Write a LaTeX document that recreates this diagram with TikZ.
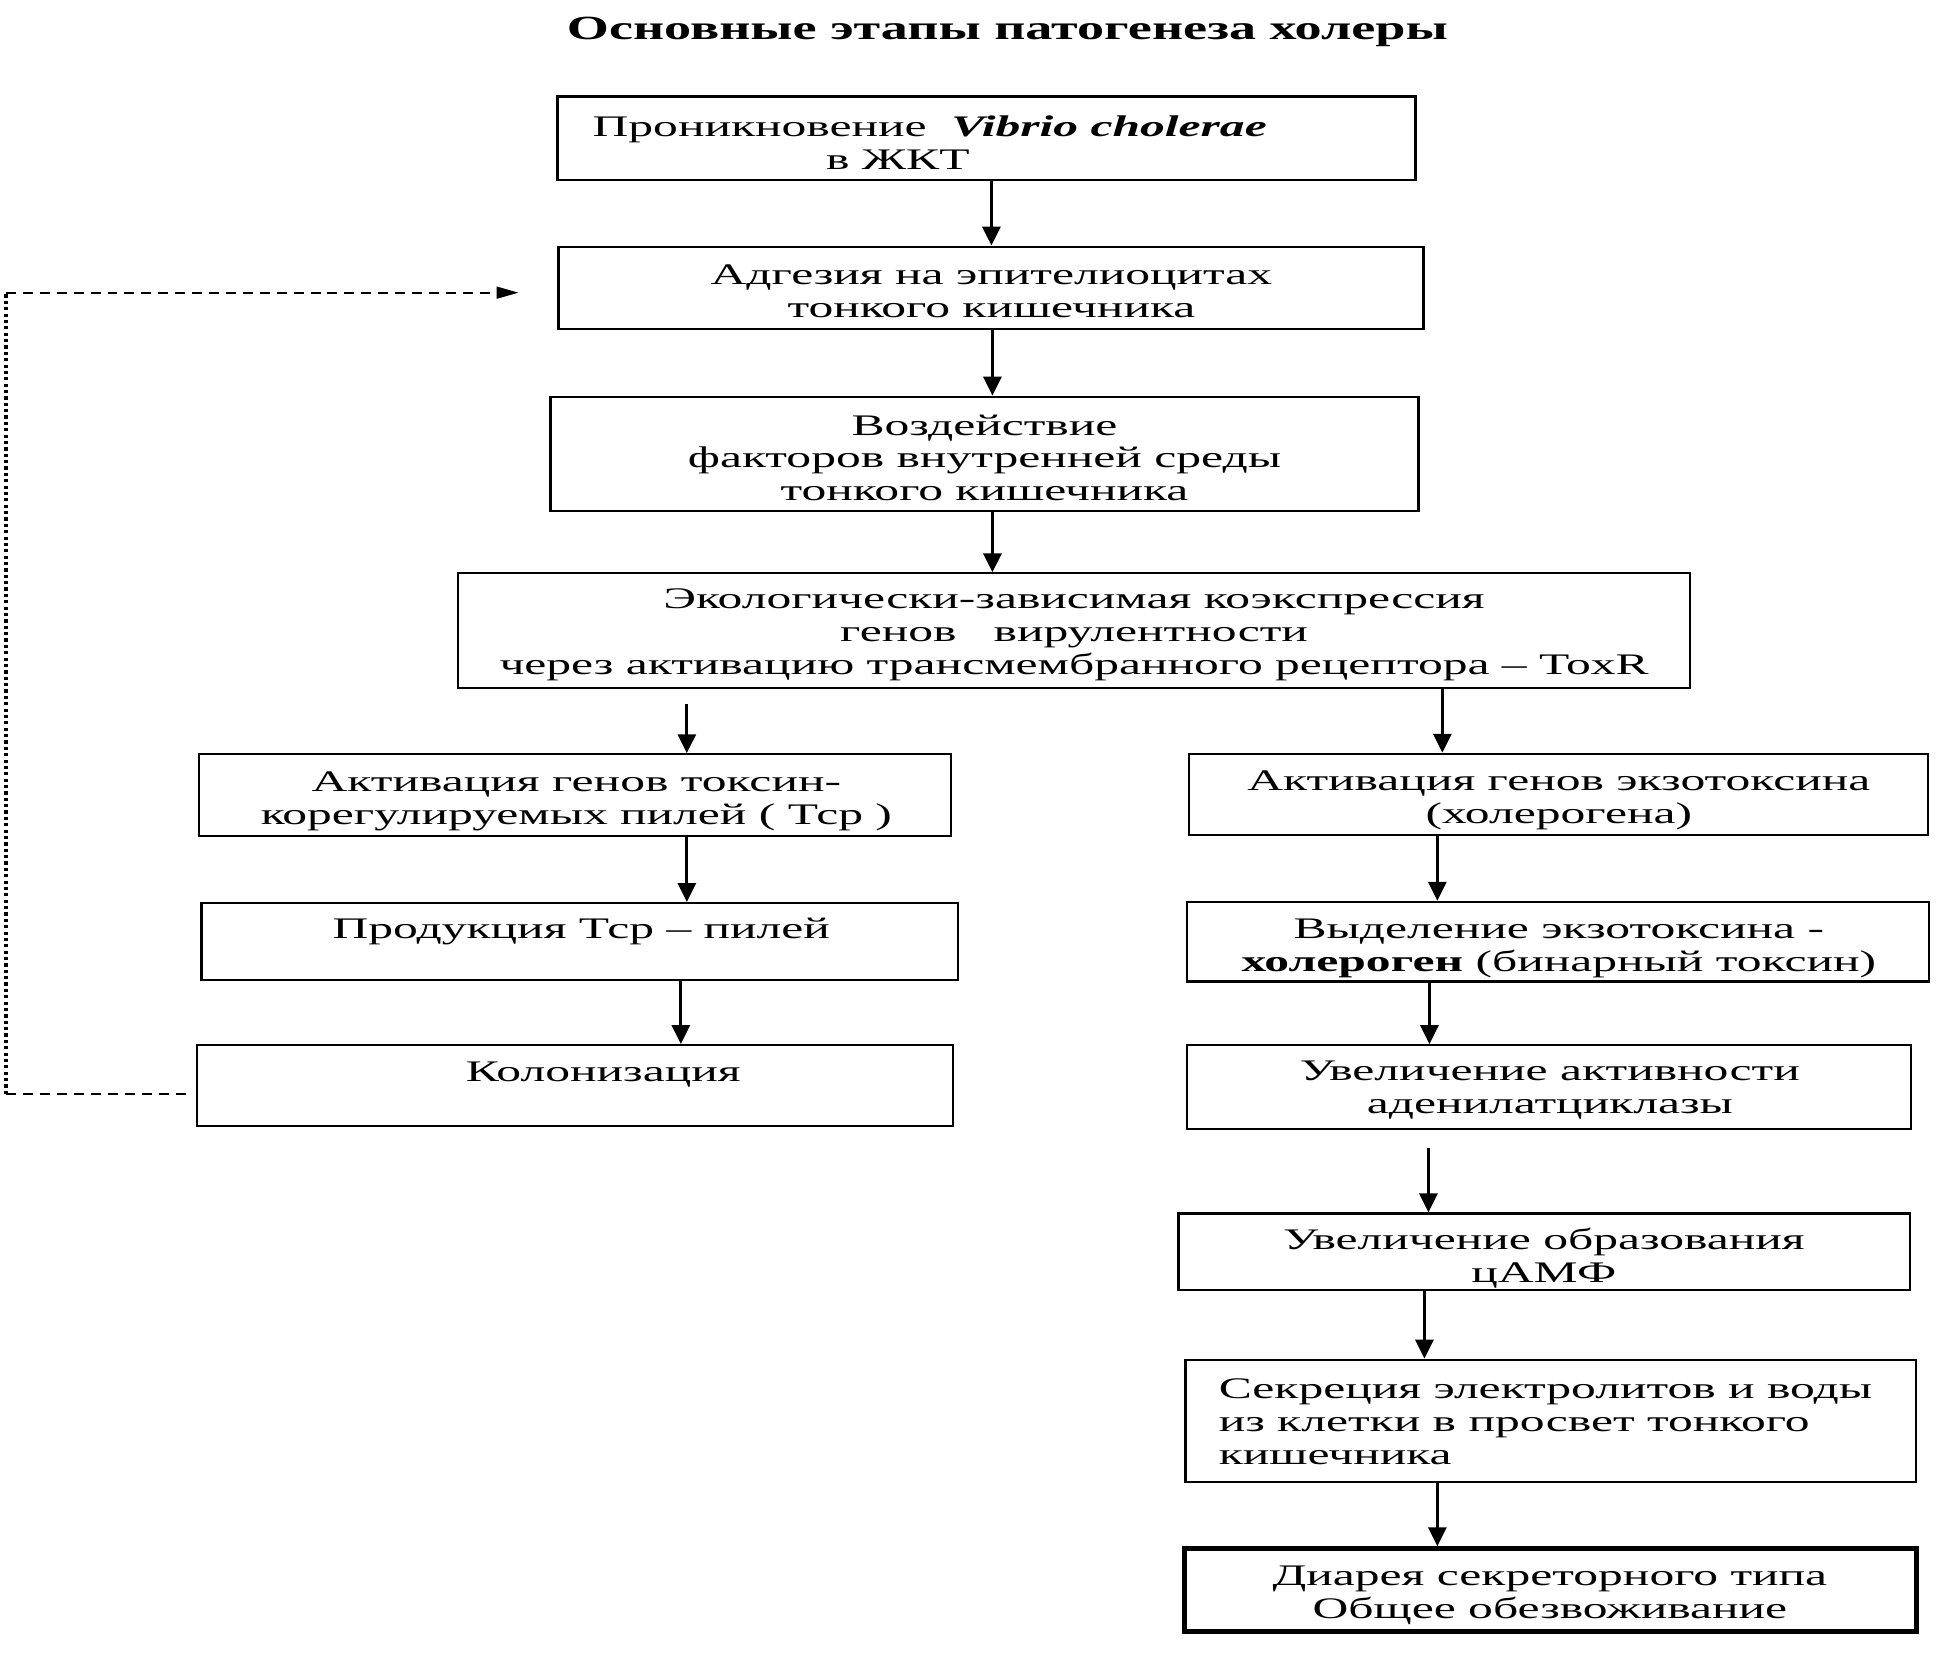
\documentclass[tikz,border=0pt]{standalone}
\usepackage{fontspec}
\setmainfont{Liberation Serif}[FakeStretch=1.66]
\newfontfamily\titlefont{Liberation Serif}[FakeStretch=1.6]
\usetikzlibrary{arrows.meta}
\begin{document}
\begin{tikzpicture}[x=0.5pt,y=-0.5pt,
  box/.style={draw, line width=1.1pt, inner sep=0pt},
  thickbox/.style={draw, line width=2.6pt, inner sep=0pt},
  txt/.style={inner sep=0pt, align=center, font=\fontsize{15}{16.5}\selectfont},
  arr/.style={line width=1.6pt, -{Triangle[width=9pt,length=9.5pt]}},
  dashh/.style={line width=0.9pt, dash pattern=on 5pt off 3.5pt},
  dotv/.style={line width=1.6pt, dash pattern=on 1.6pt off 1.6pt}]
\useasboundingbox (0,0) rectangle (1960,1660);
% title
\node[inner sep=0pt, font=\titlefont\bfseries\fontsize{17}{19}\selectfont] (title) at (1012,32) {Основные этапы патогенеза холеры};
% boxes
\node[box, minimum width=431pt, minimum height=42pt] (b1) at (991,139) {};
\node[box, minimum width=434.5pt, minimum height=41.25pt] (b2) at (995.5,289) {};
\node[box, minimum width=436pt, minimum height=57.5pt] (b3) at (989,456) {};
\node[box, minimum width=618.75pt, minimum height=57.5pt] (b4) at (1079,633.5) {};
\node[box, minimum width=377.5pt, minimum height=41.25pt] (b5) at (577.5,799) {};
\node[box, minimum width=380pt, minimum height=38.75pt] (b6) at (582.5,946) {};
\node[box, minimum width=380pt, minimum height=40.5pt] (b7) at (577.5,1090.5) {};
\node[box, minimum width=371.25pt, minimum height=40.75pt] (b8) at (1566,798) {};
\node[box, minimum width=372.5pt, minimum height=40pt] (b9) at (1565,946) {};
\node[box, minimum width=363.75pt, minimum height=42pt] (b10) at (1556,1092) {};
\node[box, minimum width=367.5pt, minimum height=38.5pt] (b11) at (1551.5,1257.5) {};
\node[box, minimum width=367pt, minimum height=61.5pt] (b12) at (1558,1427.5) {};
\node[thickbox, minimum width=367.5pt, minimum height=41.5pt] (b13) at (1557.5,1597.5) {};
% texts
\node[txt] (t1) at (934,143) {Проникновение \ \textbf{\textit{Vibrio cholerae}}\\ в ЖКТ\hspace*{32pt}};
\node[txt] (t2) at (996,293) {Адгезия на эпителиоцитах\\ тонкого кишечника};
\node[txt] (t3) at (989,460) {Воздействие\\ факторов внутренней среды\\ тонкого кишечника};
\node[txt] (t4) at (1079,638) {Экологически-зависимая коэкспрессия\\ генов \ \ вирулентности\\ через активацию трансмембранного рецептора – ToxR};
\node[txt] (t5) at (579,805) {Активация генов токсин-\\ корегулируемых пилей ( Тср )};
\node[txt] (t6) at (584,936) {Продукция Тср – пилей};
\node[txt] (t7) at (606,1080) {Колонизация};
\node[txt] (t8) at (1566,804) {Активация генов экзотоксина\\ (холерогена)};
\node[txt] (t9) at (1566,953) {Выделение экзотоксина -\\ \textbf{холероген} (бинарный токсин)};
\node[txt] (t10) at (1557,1095) {Увеличение активности\\ аденилатциклазы};
\node[txt] (t11) at (1551,1264) {Увеличение образования\\ цАМФ};
\node[txt, align=left, anchor=west] (t12) at (1224,1428) {Секреция электролитов и воды\\ из клетки в просвет тонкого\\ кишечника};
\node[txt] (t13) at (1557,1603) {Диарея секреторного типа\\ Общее обезвоживание};
% arrows
\draw[arr] (b1.south -| 996,0) -- (b2.north -| 996,0);
\draw[arr] (b2.south -| 997,0) -- (b3.north -| 997,0);
\draw[arr] (b3.south -| 997,0) -- (b4.north -| 997,0);
\draw[arr, shorten <=7.5pt] (b4.south -| 690,0) -- (b5.north -| 690,0);
\draw[arr] (b4.south -| 1449,0) -- (b8.north -| 1449,0);
\draw[arr] (b5.south -| 690,0) -- (b6.north -| 690,0);
\draw[arr] (b6.south -| 684,0) -- (b7.north -| 684,0);
\draw[arr] (b8.south -| 1444,0) -- (b9.north -| 1444,0);
\draw[arr] (b9.south -| 1436,0) -- (b10.north -| 1436,0);
\draw[arr, shorten <=9pt] (b10.south -| 1435,0) -- (b11.north -| 1435,0);
\draw[arr] (b11.south -| 1431,0) -- (b12.north -| 1431,0);
\draw[arr] (b12.south -| 1444,0) -- (b13.north -| 1444,0);
% feedback
\coordinate (c1) at (6,1099);
\coordinate (c2) at (6,294);
\draw[dashh] ([xshift=-5pt]b7.west |- c1) -- (c1);
\draw[dotv] (c1) -- (c2);
\draw[dashh, -{Triangle[width=6pt,length=11pt]}] (c2) -- ([xshift=-19.5pt]b2.west |- c2);
\end{tikzpicture}
\end{document}
